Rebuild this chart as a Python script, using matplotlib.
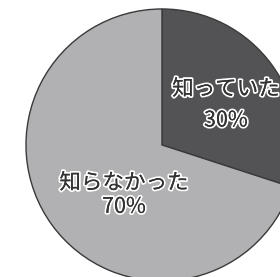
import matplotlib
matplotlib.use("Agg")
import matplotlib.pyplot as plt
import matplotlib.patheffects as pe

plt.rcParams['font.family'] = ['Noto Sans CJK JP', 'DejaVu Sans']

labels = ["知っていた", "知らなかった"]
values = [30, 70]
colors = ["#535355", "#b1b1b3"]

fig = plt.figure(figsize=(2.80, 2.77), dpi=100)
ax = fig.add_axes([0, 0, 1, 1])
ax.pie(values, colors=colors, startangle=90, counterclock=False,
       radius=1.0, wedgeprops=dict(edgecolor="#3a3a3a", linewidth=1.0))
ax.set_aspect('auto')
ax.set_xlim(-1.191, 0.868)
ax.set_ylim(-0.971, 1.066)
ax.axis('off')

effects = [pe.withStroke(linewidth=2.6, foreground="white"),
           pe.Normal()]
# label positions (data coords)
pos = [(0.47, 0.41, 0.18), (-0.28, -0.28, -0.455)]
for lab, v, (x, y1, y2) in zip(labels, values, pos):
    for txt, y in ((lab, y1), (f"{v}%", y2)):
        ax.text(x, y, txt, ha='center', va='center', fontsize=15.5,
                color="#333333", path_effects=effects)

fig.savefig("out.png", dpi=100)
